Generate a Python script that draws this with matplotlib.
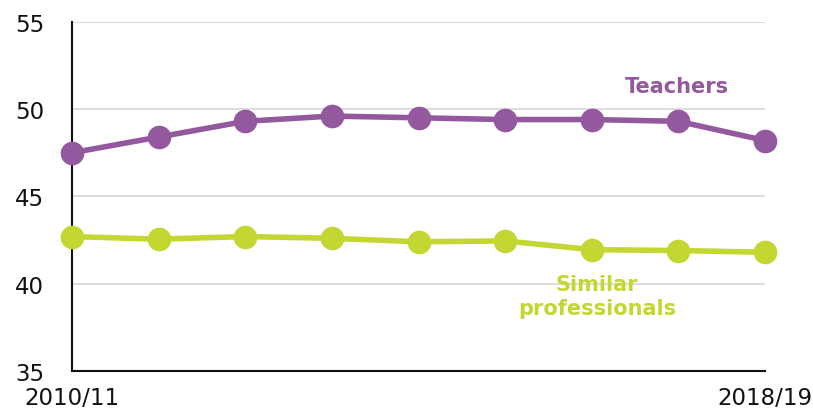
import matplotlib
matplotlib.use("Agg")
import matplotlib.pyplot as plt

# Данные
years = ["2010/11", "2011/12", "2012/13", "2013/14", "2014/15",
         "2015/16", "2016/17", "2017/18", "2018/19"]
teachers = [47.5, 48.4, 49.3, 49.6, 49.5, 49.4, 49.4, 49.3, 48.2]
similar = [42.7, 42.55, 42.7, 42.6, 42.4, 42.45, 41.95, 41.9, 41.8]

purple = "#94589E"
green = "#C4D632"

fig = plt.figure(figsize=(8.13, 4.14), dpi=100)
ax = fig.add_axes([0.0886, 0.1014, 0.8524, 0.8436])

x = range(len(years))
ax.plot(x, teachers, color=purple, lw=4, marker="o", ms=16, clip_on=False, zorder=3)
ax.plot(x, similar, color=green, lw=4, marker="o", ms=16, clip_on=False, zorder=3)

ax.set_xlim(0, len(years) - 1)
ax.set_ylim(35, 55)
ax.set_yticks([35, 40, 45, 50, 55])
ax.set_xticks([0, len(years) - 1])
ax.set_xticklabels([years[0], years[-1]])
ax.yaxis.grid(True, color="#DDDDDD", lw=1.5)
ax.set_axisbelow(True)

for s in ["top", "right"]:
    ax.spines[s].set_visible(False)
for s in ["left", "bottom"]:
    ax.spines[s].set_linewidth(1.5)
    ax.spines[s].set_color("#111111")
ax.tick_params(length=0, labelsize=16.5, colors="#111111")
ax.tick_params(axis="y", pad=20)
ax.tick_params(axis="x", pad=11)

# Подписи серий
ax.text(6.98, 51.3, "Teachers", color=purple, fontsize=15, fontweight="bold",
        ha="center", va="center")
ax.text(6.06, 39.3, "Similar\nprofessionals", color=green, fontsize=15,
        fontweight="bold", ha="center", va="center", linespacing=1.3)

fig.savefig("out.png", dpi=100)
